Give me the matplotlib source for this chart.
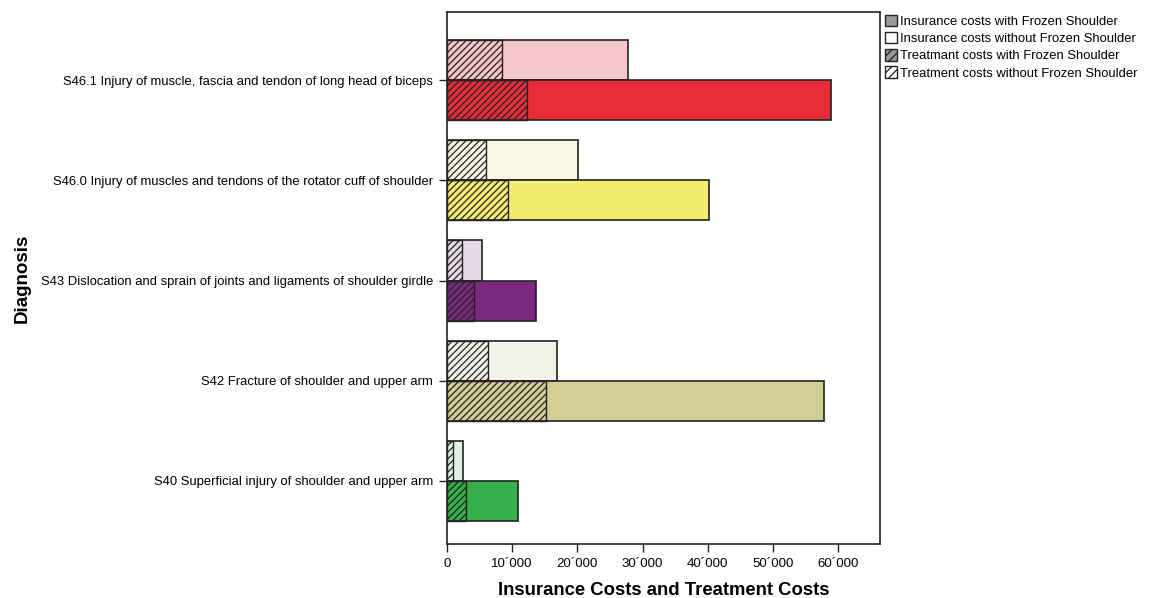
import numpy as np
import matplotlib
matplotlib.use("Agg")
import matplotlib.pyplot as plt
from matplotlib.patches import Patch

plt.rcParams['font.family'] = ['Liberation Sans', 'DejaVu Sans']
plt.rcParams['hatch.linewidth'] = 0.9

# data (bottom to top)
diagnoses = ["S40 Superficial injury of shoulder and upper arm",
             "S42 Fracture of shoulder and upper arm",
             "S43 Dislocation and sprain of joints and ligaments of shoulder girdle",
             "S46.0 Injury of muscles and tendons of the rotator cuff of shoulder",
             "S46.1 Injury of muscle, fascia and tendon of long head of biceps"]
ins_with = [10900, 57800, 13650, 40200, 58900]
ins_without = [2400, 16900, 5400, 20100, 27800]
treat_with = [2900, 15200, 4150, 9350, 12300]
treat_without = [950, 6300, 2300, 6000, 8400]

dark_colors = ["#35b04b", "#d3cd97", "#7b2a7f", "#f3ec72", "#e92e3a"]
light_colors = ["#e1f1e4", "#f2f2ea", "#e8d9e9", "#faf8e5", "#f6c5ca"]

xticks = [0, 10000, 20000, 30000, 40000, 50000, 60000]
xticklabels = ["0", "10\u00b4000", "20\u00b4000", "30\u00b4000", "40\u00b4000", "50\u00b4000", "60\u00b4000"]

fig = plt.figure(figsize=(11.54, 5.98), dpi=100)
ax = fig.add_axes([0.3873, 0.0903, 0.3753, 0.8896])

y = np.arange(len(diagnoses))
h = 0.4

# insurance costs (without FS above the tick, with FS below)
ax.barh(y + h / 2, ins_without, height=h, color=light_colors,
        edgecolor="#222222", linewidth=1.2, zorder=2)
ax.barh(y - h / 2, ins_with, height=h, color=dark_colors,
        edgecolor="#222222", linewidth=1.2, zorder=2)

# treatment costs, hatched overlay
ax.barh(y + h / 2, treat_without, height=h, fill=False, hatch="/////",
        edgecolor="#222222", linewidth=1.0, zorder=3)
ax.barh(y - h / 2, treat_with, height=h, fill=False, hatch="/////",
        edgecolor="#222222", linewidth=1.0, zorder=3)

ax.set_xlim(0, 66400)
ax.set_ylim(-0.63, 4.68)
ax.set_xticks(xticks)
ax.set_xticklabels(xticklabels, fontsize=9.5)
ax.set_yticks(y)
ax.set_yticklabels(diagnoses, fontsize=9.4)
ax.tick_params(axis="both", length=6, width=1, color="#222222", pad=4)
ax.tick_params(axis="x", pad=4)
for s in ax.spines.values():
    s.set_linewidth(1.2)
    s.set_color("#222222")

ax.set_xlabel("Insurance Costs and Treatment Costs", fontsize=13.3,
              fontweight="bold", labelpad=9)
fig.text(0.019, 0.535, "Diagnosis", rotation=90, fontsize=13.5,
         fontweight="bold", ha="center", va="center")

handles = [Patch(facecolor="#999999", edgecolor="#222222"),
           Patch(facecolor="white", edgecolor="#222222"),
           Patch(facecolor="#999999", edgecolor="#222222", hatch="////"),
           Patch(facecolor="white", edgecolor="#222222", hatch="////")]
labels = ["Insurance costs with Frozen Shoulder",
          "Insurance costs without Frozen Shoulder",
          "Treatmant costs with Frozen Shoulder",
          "Treatment costs without Frozen Shoulder"]
fig.legend(handles, labels, loc="upper left", bbox_to_anchor=(0.765, 0.98),
           frameon=False, fontsize=9.4, handlelength=0.9, handleheight=1.0,
           handletextpad=0.25, labelspacing=0.3, borderaxespad=0,
           borderpad=0.2)

fig.savefig("out.png", dpi=100)
